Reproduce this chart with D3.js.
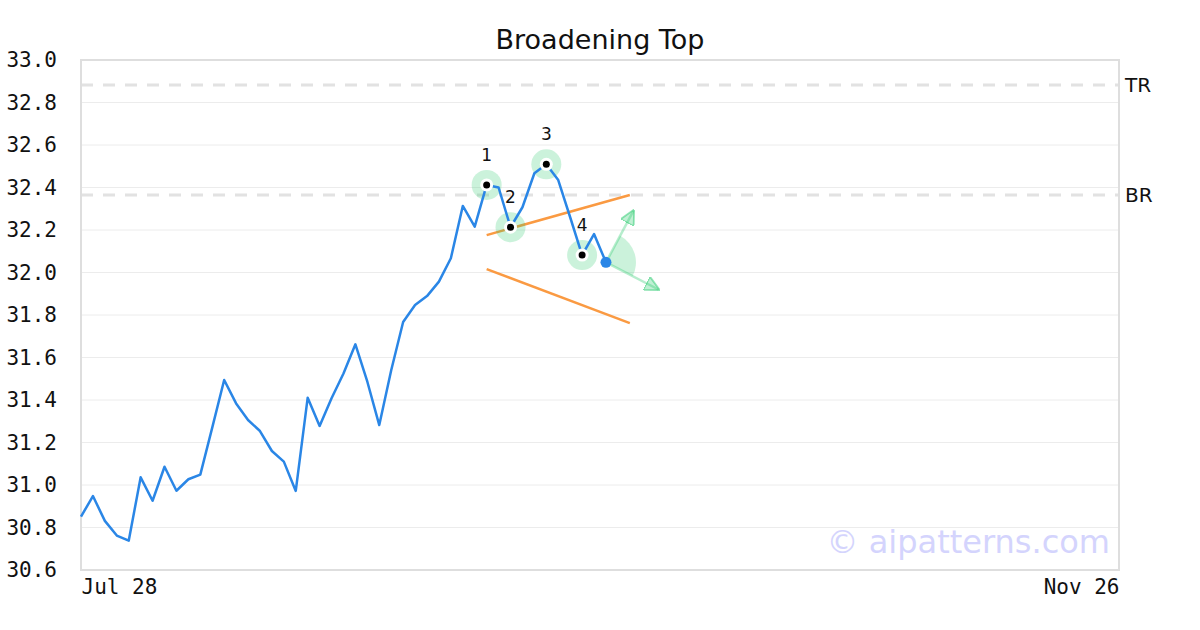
<!DOCTYPE html>
<html><head><meta charset="utf-8">
<script src="https://cdn.jsdelivr.net/npm/d3@7"></script>
<style>body{margin:0;background:#fff}svg{display:block}</style>
</head><body><svg id="c" width="1200" height="630"></svg>
<script>
const title = "Broadening Top";
const prices = [30.851,30.948,30.831,30.762,30.738,31.036,30.926,31.086,30.973,31.027,31.049,31.27,31.494,31.384,31.306,31.254,31.16,31.11,30.972,31.411,31.278,31.408,31.525,31.662,31.486,31.282,31.54,31.767,31.847,31.889,31.957,32.067,32.313,32.216,32.412,32.40,32.213,32.307,32.467,32.509,32.435,32.26,32.082,32.181,32.048];
const xTickIdx = [0, 87];
const xTickLabels = ["Jul 28", "Nov 26"];
const yTicks = [30.6,30.8,31.0,31.2,31.4,31.6,31.8,32.0,32.2,32.4,32.6,32.8,33.0];
const refLevels = [32.882, 32.365];
const refLabels = ["TR", "BR"];
const pivotIdx = [34, 36, 39, 42];
const pivotLabels = ["1", "2", "3", "4"];
const upperLine = [[34, 32.176], [46, 32.365]];
const lowerLine = [[34, 32.016], [46, 31.762]];
const arrowEnds = [[46.3, 32.29], [48.4, 31.92]];

const svg = d3.select("#c");
const L = 81, R = 1119, T = 60, B = 570;
const x = d3.scaleLinear().domain([0, 87]).range([L, R]);
const y = d3.scaleLinear().domain([30.6, 33.0]).range([B, T]);

// grid
svg.append("g").selectAll("line").data(yTicks.slice(1, -1)).join("line")
  .attr("x1", L).attr("x2", R).attr("y1", d => y(d)).attr("y2", d => y(d))
  .attr("stroke", "#ececec").attr("stroke-width", 1);

// ref lines
refLevels.forEach((v, i) => {
  svg.append("line").attr("x1", L).attr("x2", R).attr("y1", y(v)).attr("y2", y(v))
    .attr("stroke", "#e2e2e2").attr("stroke-width", 3).attr("stroke-dasharray", "12,10");
  svg.append("text").attr("x", R + 6).attr("y", y(v)).attr("dy", "0.35em")
    .attr("font-family", "DejaVu Sans").attr("font-size", 20).attr("fill", "#111").text(refLabels[i]);
});

// frame
svg.append("rect").attr("x", L).attr("y", T).attr("width", R - L).attr("height", B - T)
  .attr("fill", "none").attr("stroke", "#dedede").attr("stroke-width", 2);

// watermark
svg.append("text").attr("x", 1110).attr("y", 553).attr("text-anchor", "end")
  .attr("font-family", "DejaVu Sans").attr("font-size", 32).attr("fill", "#d4d4fd").text("© aipatterns.com");

// title
svg.append("text").attr("x", 600).attr("y", 49).attr("text-anchor", "middle")
  .attr("font-family", "DejaVu Sans").attr("font-size", 27).attr("fill", "#111").text(title);

// y axis labels
const yAxis = d3.axisLeft(y).tickValues(yTicks).tickFormat(d3.format(".1f")).tickSize(0).tickPadding(24);
const gy = svg.append("g").attr("transform", `translate(${L},0)`).call(yAxis);
gy.select(".domain").remove();
gy.selectAll("text").attr("font-family", "DejaVu Sans Mono").attr("font-size", 21).attr("fill", "#111");

// x axis labels
const xAxis = d3.axisBottom(x).tickValues(xTickIdx).tickFormat((d, i) => xTickLabels[i]).tickSize(0).tickPadding(9);
const gx = svg.append("g").attr("transform", `translate(0,${B})`).call(xAxis);
gx.select(".domain").remove();
gx.selectAll("text").attr("font-family", "DejaVu Sans Mono").attr("font-size", 21).attr("fill", "#111")
  .attr("text-anchor", (d, i) => i === 0 ? "start" : "end");

// orange lines
[upperLine, lowerLine].forEach(seg => {
  svg.append("line").attr("x1", x(seg[0][0])).attr("y1", y(seg[0][1])).attr("x2", x(seg[1][0])).attr("y2", y(seg[1][1]))
    .attr("stroke", "#fa9a42").attr("stroke-width", 2.5);
});

// pivot halos
svg.append("g").selectAll("circle").data(pivotIdx).join("circle")
  .attr("cx", d => x(d)).attr("cy", d => y(prices[d])).attr("r", 15)
  .attr("fill", "#2ecc71").attr("fill-opacity", 0.25);

// wedge + arrows
const last = prices.length - 1;
const cx = x(last), cy = y(prices[last]);
const angs = arrowEnds.map(e => Math.atan2(x(e[0]) - cx, -(y(e[1]) - cy)));
const arc = d3.arc().innerRadius(0).outerRadius(30).startAngle(angs[0]).endAngle(angs[1]);
svg.append("path").attr("transform", `translate(${cx},${cy})`).attr("d", arc())
  .attr("fill", "#2ecc71").attr("fill-opacity", 0.25);
const defs = svg.append("defs");
defs.append("marker").attr("id", "ah").attr("viewBox", "0 0 10 10").attr("refX", 9).attr("refY", 5)
  .attr("markerWidth", 6).attr("markerHeight", 6).attr("orient", "auto")
  .append("path").attr("d", "M0,0 L10,5 L0,10 Z").attr("fill", "#2ecc71").attr("fill-opacity", 0.3)
  .attr("stroke", "#2ecc71").attr("stroke-opacity", 0.5).attr("stroke-width", 1.2);
arrowEnds.forEach(e => {
  svg.append("line").attr("x1", cx).attr("y1", cy).attr("x2", x(e[0])).attr("y2", y(e[1]))
    .attr("stroke", "#2ecc71").attr("stroke-opacity", 0.35).attr("stroke-width", 2.5).attr("marker-end", "url(#ah)");
});

// price line
svg.append("path").datum(prices)
  .attr("d", d3.line().x((d, i) => x(i)).y(d => y(d)))
  .attr("fill", "none").attr("stroke", "#2a86e6").attr("stroke-width", 2.5).attr("stroke-linejoin", "round");

// pivots inner
svg.append("g").selectAll("circle").data(pivotIdx).join("circle")
  .attr("cx", d => x(d)).attr("cy", d => y(prices[d])).attr("r", 6.5).attr("fill", "#fff");
svg.append("g").selectAll("circle").data(pivotIdx).join("circle")
  .attr("cx", d => x(d)).attr("cy", d => y(prices[d])).attr("r", 3.5).attr("fill", "#000");
svg.append("g").selectAll("text").data(pivotIdx).join("text")
  .attr("x", d => x(d)).attr("y", d => y(prices[d]) - 30).attr("dy", "0.35em").attr("text-anchor", "middle")
  .attr("font-family", "DejaVu Sans").attr("font-size", 17).attr("fill", "#111").text((d, i) => pivotLabels[i]);

// last point
svg.append("circle").attr("cx", cx).attr("cy", cy).attr("r", 5.5).attr("fill", "#2a86e6");
</script></body></html>
